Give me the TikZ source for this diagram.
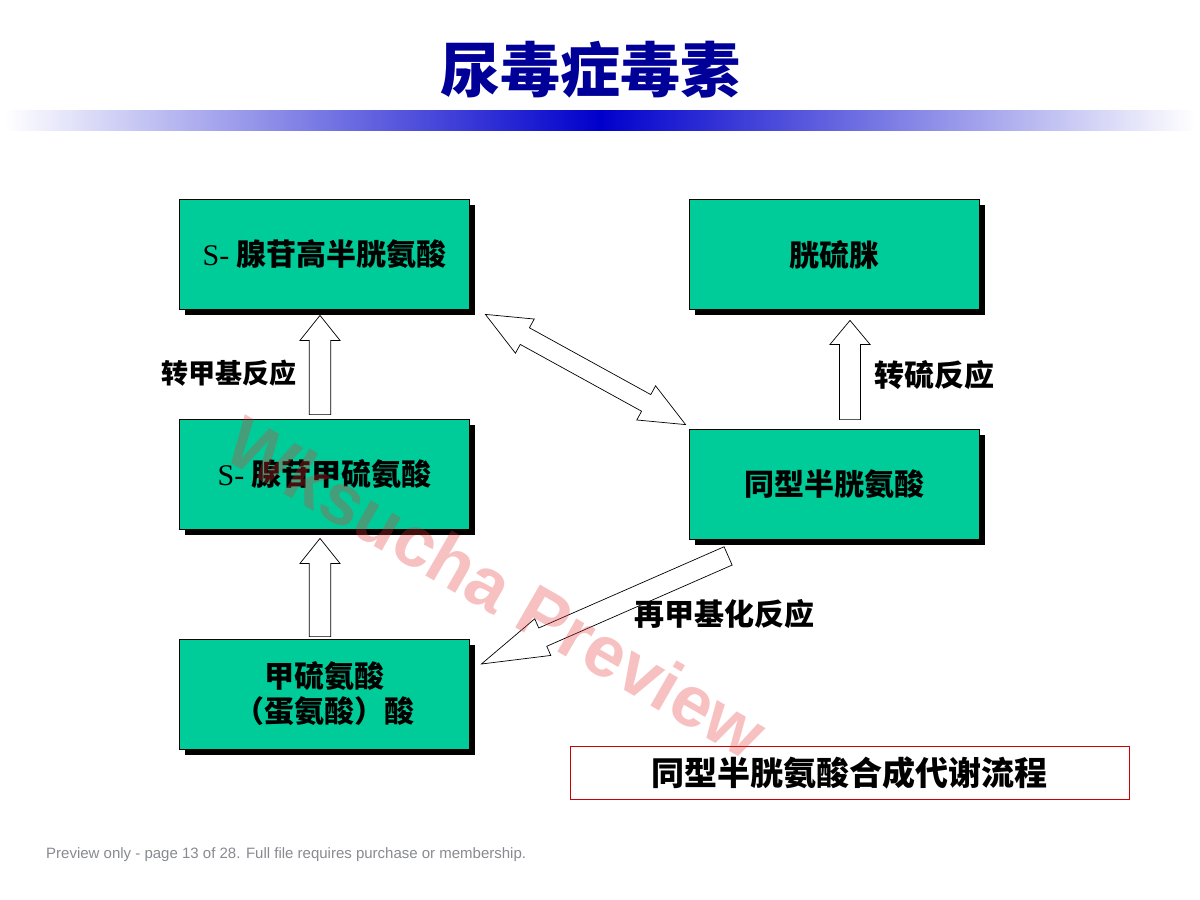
\documentclass[tikz,border=0pt]{standalone}
\usepackage{fontspec}
\setmainfont{Liberation Sans}
\newfontfamily\cjk{Noto Sans CJK SC}
\newfontfamily\tms{Liberation Serif}
\usetikzlibrary{calc,shadows}
\definecolor{boxgreen}{RGB}{0,204,153}
\definecolor{titleblue}{RGB}{0,0,153}
\definecolor{barblue}{RGB}{0,0,204}
\definecolor{capred}{RGB}{204,0,0}
\definecolor{footgray}{RGB}{136,138,144}
\definecolor{wmred}{RGB}{230,50,50}
% single-headed block arrow: tail, tip, head length, head half width, shaft half width
\newcommand{\blkarrow}[5]{%
  \coordinate (bkH) at ($(#2)!#3!(#1)$);
  \draw[blockarrow] ($(#1)!#5!90:(#2)$) -- ($(bkH)!#5!90:(#2)$) -- ($(bkH)!#4!90:(#2)$) -- (#2)
    -- ($(bkH)!#4!-90:(#2)$) -- ($(bkH)!#5!-90:(#2)$) -- ($(#1)!#5!-90:(#2)$) -- cycle;}
% double-headed block arrow
\newcommand{\dblarrow}[5]{%
  \coordinate (bkHa) at ($(#1)!#3!(#2)$);
  \coordinate (bkHb) at ($(#2)!#3!(#1)$);
  \draw[blockarrow] (#1) -- ($(bkHa)!#4!90:(#2)$) -- ($(bkHa)!#5!90:(#2)$) -- ($(bkHb)!#5!90:(#2)$)
    -- ($(bkHb)!#4!90:(#2)$) -- (#2) -- ($(bkHb)!#4!-90:(#2)$) -- ($(bkHb)!#5!-90:(#2)$)
    -- ($(bkHa)!#5!-90:(#2)$) -- ($(bkHa)!#4!-90:(#2)$) -- cycle;}
\begin{document}
\begin{tikzpicture}[x=1pt,y=-1pt,
  chembox/.style={draw=black, line width=0.8pt, fill=boxgreen, minimum width=290pt,
    minimum height=110pt, inner sep=0pt, align=center,
    font=\cjk\bfseries\fontsize{30}{35}\selectfont,
    drop shadow={shadow xshift=5.5pt, shadow yshift=-5.5pt, fill=black, opacity=1}},
  blockarrow/.style={draw=black, line width=0.7pt, fill=white, line join=miter},
  rxnlabel/.style={inner sep=0pt, font=\cjk\bfseries\fontsize{30}{36}\selectfont}]
\useasboundingbox (0,0) rectangle (1200,900);
\fill[white] (0,0) rectangle (1200,900);

% title and bar
\node[text=titleblue, font=\cjk\bfseries\fontsize{60}{60}\selectfont] (title) at (590,70) {尿毒症毒素};
\shade[left color=white, right color=barblue] (5,110) rectangle (600,130);
\shade[left color=barblue, right color=white] (600,110) rectangle (1195,130);

% boxes
\node[chembox] (b1) at (324.5,254.5) {{\tms\mdseries S-} 腺苷高半胱氨酸};
\node[chembox] (b2) at (324.5,474) {{\tms\mdseries S-} 腺苷甲硫氨酸};
\node[chembox] (b3) at (324.5,694) {甲硫氨酸\\（蛋氨酸）酸};
\node[chembox] (b4) at (834,254.5) {胱硫脒};
\node[chembox] (b5) at (834,484) {同型半胱氨酸};

% arrow end points
\coordinate (a1t) at ($(b2.north)+(-4.5,-4)$);
\coordinate (a1h) at ($(b1.south)+(-4.5,5.5)$);
\coordinate (a2t) at ($(b3.north)+(-4.5,-2)$);
\coordinate (a2h) at ($(b2.south)+(-4.5,9)$);
\coordinate (a3t) at ($(b5.north)+(16,-9)$);
\coordinate (a3h) at ($(b4.south)+(16,10.5)$);
\coordinate (dA) at ($(b1.south east)+(15.5,4.5)$);
\coordinate (dB) at ($(b5.north west)+(-3,-4)$);
\coordinate (rt) at ($(b5.south west)+(39.5,16.5)$);
\coordinate (rh) at ($(b3.east)+(11.5,-30)$);

\blkarrow{a1t}{a1h}{25pt}{20pt}{10.7pt}
\blkarrow{a2t}{a2h}{25pt}{20pt}{10.7pt}
\blkarrow{a3t}{a3h}{24pt}{20pt}{10.5pt}
\dblarrow{dA}{dB}{45pt}{19.5pt}{9.5pt}
\blkarrow{rt}{rh}{67pt}{20pt}{10pt}

% reaction labels
\node[rxnlabel, font=\cjk\bfseries\fontsize{27}{32}\selectfont] (l1) at (229,373) {转甲基反应};
\node[rxnlabel] (l2) at (934,375) {转硫反应};
\node[rxnlabel] (l3) at (724,614) {再甲基化反应};

% caption
\node[draw=capred, line width=0.8pt, fill=white, minimum width=559pt, minimum height=53pt,
  inner sep=0pt, font=\cjk\bfseries\fontsize{33}{38}\selectfont] (cap) at (849.5,772.5) {同型半胱氨酸合成代谢流程};

% footer
\node[anchor=west, inner sep=0pt, text=footgray, font=\fontsize{15}{17}\selectfont] (foot) at (46,855)
  {Preview only - page 13 of 28. Full file requires purchase or membership.};

% watermark
\node[rotate=-30, text=wmred, opacity=0.3, font=\bfseries\fontsize{72}{72}\selectfont] (wm) at (497,587) {Wksucha Preview};
\end{tikzpicture}
\end{document}
